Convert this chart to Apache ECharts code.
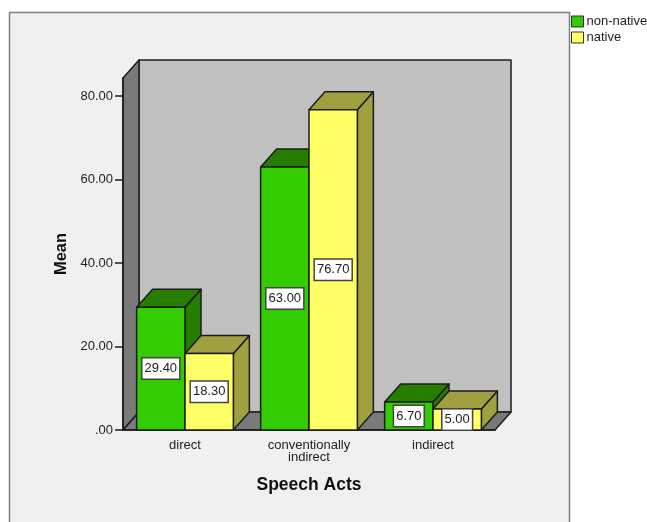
<!DOCTYPE html>
<html>
<head>
<meta charset="utf-8">
<style>
  html, body { margin: 0; padding: 0; background: #fff; }
  #chart { width: 647px; height: 522px; }
</style>
<script src="https://cdn.jsdelivr.net/npm/echarts@6/dist/echarts.min.js"></script>
</head>
<body>
<div id="chart"></div>
<script>
const categories = ['direct', 'conventionally\nindirect', 'indirect'];
const nonNative = [29.4, 63.0, 6.7];
const native = [18.3, 76.7, 5.0];
const yTicks = [0, 20, 40, 60, 80];
const yLabels = ['.00', '20.00', '40.00', '60.00', '80.00'];

const FONT = '"Liberation Sans", Arial, sans-serif';
const INK = '#1c1c1c';
const DEPTH_X = 16;
const DEPTH_Y = 18;
const BAR_SHARE = 0.39;
const WALL_VALUE = 84.3;

// Back wall, side wall and floor of the 3D plot box.
function renderBox(params, api) {
  const c = params.coordSys;
  const l = c.x, r = c.x + c.width, t = c.y, b = c.y + c.height;
  const style = (fill) => ({ fill, stroke: INK, lineWidth: 1.5, lineJoin: 'round' });
  const poly = (points, fill) => ({ type: 'polygon', shape: { points }, style: style(fill) });
  return {
    type: 'group',
    children: [
      poly([[l + DEPTH_X, t - DEPTH_Y], [r + DEPTH_X, t - DEPTH_Y], [r + DEPTH_X, b - DEPTH_Y], [l + DEPTH_X, b - DEPTH_Y]], '#c0c0c0'),
      poly([[l, t], [l + DEPTH_X, t - DEPTH_Y], [l + DEPTH_X, b - DEPTH_Y], [l, b]], '#7a7a7a'),
      poly([[l, b], [l + DEPTH_X, b - DEPTH_Y], [r + DEPTH_X, b - DEPTH_Y], [r, b]], '#7a7a7a')
    ]
  };
}

// One extruded bar: side and top faces, front face, then its value box.
function barRenderer(offsetShare, front, shade) {
  return function (params, api) {
    const i = api.value(0), v = api.value(1);
    const base = api.coord([i, 0]);
    const top = api.coord([i, v]);
    const w = api.size([1, 0])[0] * BAR_SHARE;
    const x0 = base[0] + offsetShare * w, x1 = x0 + w;
    const y0 = top[1], y1 = base[1];
    const line = { stroke: INK, lineWidth: 1.5, lineJoin: 'round' };
    return {
      type: 'group',
      children: [
        { type: 'polygon', shape: { points: [[x1, y0], [x1 + DEPTH_X, y0 - DEPTH_Y], [x1 + DEPTH_X, y1 - DEPTH_Y], [x1, y1]] }, style: { fill: shade, ...line } },
        { type: 'polygon', shape: { points: [[x0, y0], [x0 + DEPTH_X, y0 - DEPTH_Y], [x1 + DEPTH_X, y0 - DEPTH_Y], [x1, y0]] }, style: { fill: shade, ...line } },
        { type: 'rect', shape: { x: x0, y: y0, width: w, height: y1 - y0 }, style: { fill: front, ...line } },
        {
          type: 'text',
          style: {
            x: (x0 + x1) / 2, y: (y0 + y1) / 2,
            text: v.toFixed(2), align: 'center', verticalAlign: 'middle',
            font: '13px ' + FONT, fill: '#222',
            backgroundColor: '#fff', borderColor: '#444', borderWidth: 1.5, padding: [4, 2, 3, 2]
          }
        }
      ]
    };
  };
}

const pairs = (values) => values.map((v, i) => [i, v]);

const chart = echarts.init(document.getElementById('chart'), null, { renderer: 'canvas' });
chart.setOption({
  animation: false,
  backgroundColor: '#fff',
  graphic: [{
    type: 'rect', z: -10, silent: true,
    shape: { x: 9.5, y: 12.5, width: 560, height: 530 },
    style: { fill: '#f0f0f0', stroke: '#7f7f7f', lineWidth: 1.5 }
  }],
  grid: { left: 123, top: 78, width: 372, height: 352 },
  legend: {
    left: 571, top: 15, orient: 'vertical', itemWidth: 12, itemHeight: 11, itemGap: 3,
    icon: 'rect', padding: 0,
    data: ['non-native', 'native'],
    textStyle: { fontFamily: FONT, fontSize: 13, color: '#222', lineHeight: 12, padding: [1, 0, 0, -2] },
    itemStyle: { borderColor: '#333', borderWidth: 1 }
  },
  xAxis: {
    type: 'category', data: categories, z: 2,
    name: 'Speech Acts', nameLocation: 'middle', nameGap: 46,
    nameTextStyle: { fontFamily: FONT, fontWeight: 'bold', fontSize: 17.5, color: '#111' },
    axisLine: { lineStyle: { color: INK, width: 1.5 } },
    axisTick: { alignWithLabel: true, length: 8, lineStyle: { color: INK, width: 1.5 } },
    axisLabel: { fontFamily: FONT, fontSize: 13, color: '#222', margin: 9, lineHeight: 12, interval: 0, verticalAlign: 'top' }
  },
  yAxis: {
    type: 'value', min: 0, max: WALL_VALUE, z: 2,
    name: 'Mean', nameLocation: 'middle', nameGap: 52,
    nameTextStyle: { fontFamily: FONT, fontWeight: 'bold', fontSize: 16.5, color: '#111' },
    splitLine: { show: false },
    axisLine: { show: true, lineStyle: { color: INK, width: 1.5 } },
    axisTick: { show: true, length: 8, customValues: yTicks, lineStyle: { color: INK, width: 1.5 } },
    axisLabel: {
      fontFamily: FONT, fontSize: 13, color: '#222', margin: 10, customValues: yTicks,
      formatter: (v) => yLabels[yTicks.indexOf(v)]
    }
  },
  series: [
    { type: 'custom', name: 'box', z: 1, data: [[0, 0]], renderItem: renderBox, silent: true },
    { type: 'custom', name: 'non-native', z: 3, data: pairs(nonNative), encode: { x: 0, y: 1 }, itemStyle: { color: '#33cc00' }, renderItem: barRenderer(-1, '#33cc00', '#267d00') },
    { type: 'custom', name: 'native', z: 3, data: pairs(native), encode: { x: 0, y: 1 }, itemStyle: { color: '#ffff66' }, renderItem: barRenderer(0, '#ffff66', '#a0a040') }
  ]
});
</script>
</body>
</html>
